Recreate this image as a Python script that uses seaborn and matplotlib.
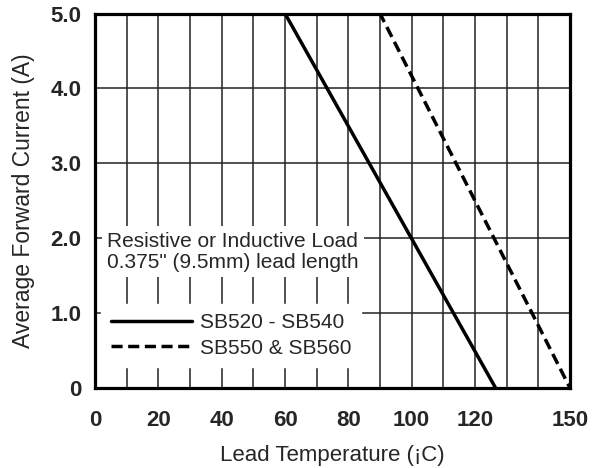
"""Forward current derating curve (SB520 - SB560)."""
import matplotlib

matplotlib.use("Agg")
import matplotlib.pyplot as plt
import pandas as pd
import seaborn as sns

# data
temp_sb520 = [0, 60, 126.5]
current_sb520 = [5.0, 5.0, 0.0]
temp_sb550 = [0, 90, 150]
current_sb550 = [5.0, 5.0, 0.0]
series_names = ["SB520 - SB540", "SB550 & SB560"]

x_labelled = [0, 20, 40, 60, 80, 100, 120, 150]
y_ticks = [0, 1, 2, 3, 4, 5]
y_tick_labels = ["0", "1.0", "2.0", "3.0", "4.0", "5.0"]

df = pd.concat([
    pd.DataFrame({"temp": temp_sb520, "current": current_sb520, "series": series_names[0]}),
    pd.DataFrame({"temp": temp_sb550, "current": current_sb550, "series": series_names[1]}),
])

sns.set_style("white")
plt.rcParams["font.family"] = ["Liberation Sans", "DejaVu Sans"]

fig = plt.figure(figsize=(5.94, 4.68), dpi=100)
ax = fig.add_axes([0.16, 0.171, 0.7996, 0.800])

sns.lineplot(data=df, x="temp", y="current", style="series", color="black",
             dashes={series_names[0]: "", series_names[1]: (3.2, 1.6)},
             estimator=None, linewidth=2.5, ax=ax, zorder=5)

ax.set_xlim(0, 150)
ax.set_ylim(0, 5)
ax.set_xticks(range(0, 151, 10))
ax.set_xticklabels([str(t) if t in x_labelled else "" for t in range(0, 151, 10)])
ax.set_yticks(y_ticks)
ax.set_yticklabels(y_tick_labels)
ax.tick_params(length=0, labelsize=16)
ax.tick_params(axis="x", pad=16)
ax.tick_params(axis="y", pad=10)
for lab in ax.get_xticklabels() + ax.get_yticklabels():
    lab.set_fontweight("bold")

ax.grid(True, color="#222222", linewidth=1.1)
ax.set_axisbelow(True)
for sp in ax.spines.values():
    sp.set_linewidth(2.3)
    sp.set_color("black")

ax.set_xlabel("Lead Temperature (¡C)", fontsize=16, labelpad=10)
ax.set_ylabel("Average Forward Current (A)", fontsize=16.5, labelpad=11)

ax.text(3.8, 1.82, "Resistive or Inductive Load\n0.375\" (9.5mm) lead length",
        ha="left", va="center", fontsize=15, linespacing=1.15, zorder=6,
        bbox=dict(boxstyle="square,pad=0.25", facecolor="white", edgecolor="none"))

handles, labels = ax.get_legend_handles_labels()
leg = ax.legend(handles, labels, loc="center left", bbox_to_anchor=(0.0, 0.14),
                fontsize=15, frameon=True, fancybox=False, framealpha=1,
                handlelength=3.9, handletextpad=0.4, labelspacing=0.3,
                borderpad=0.45, borderaxespad=0.3)
leg.get_frame().set_edgecolor("white")
leg.get_frame().set_facecolor("white")
leg.set_zorder(7)

fig.savefig("out.png", dpi=100)
